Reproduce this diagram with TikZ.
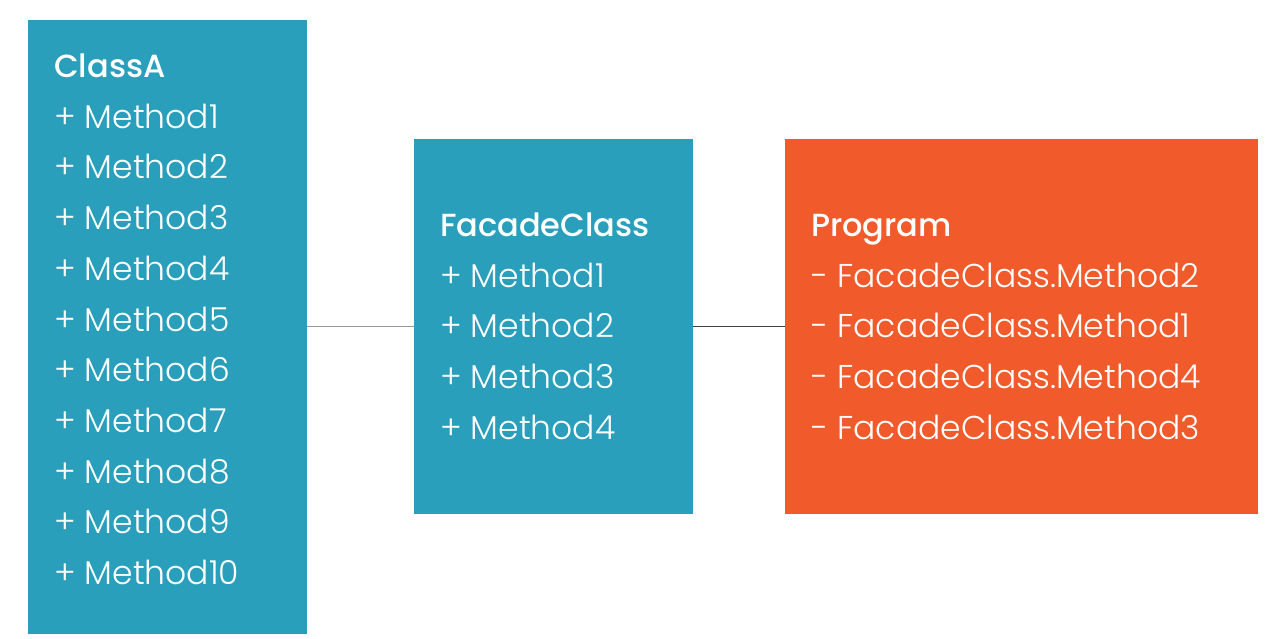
\documentclass[tikz,border=0pt]{standalone}
\usepackage{fontspec}
\setmainfont{Poppins Light}[BoldFont={Poppins Medium}]

\usetikzlibrary{positioning}

\definecolor{classblue}{HTML}{2A9FBC}
\definecolor{programorange}{HTML}{F15A2B}

\begin{document}
\begin{tikzpicture}[x=1pt,y=-1pt,
  box/.style={draw=none, inner sep=0pt, anchor=north west},
  member/.style={anchor=base west, inner sep=0pt, text=white, font=\fontsize{33}{33}\selectfont},
  header/.style={member, font=\fontsize{32}{32}\selectfont\bfseries}]
  \useasboundingbox (0,0) rectangle (1275,638);

  % boxes
  \node[box, fill=classblue, minimum width=279, minimum height=614] (classA) at (28,20) {};
  \node[box, fill=classblue, minimum width=279, minimum height=375] (facade) at (414,139) {};
  \node[box, fill=programorange, minimum width=473, minimum height=375] (program) at (785,139) {};

  % connectors
  \draw[gray!80, line width=1.2pt] (facade.west -| classA.east) -- (facade.west);
  \draw[black!75, line width=1.2pt] (facade.east) -- (program.west);

  % ClassA
  \node[header] (classAname) at (54,77) {ClassA};
  \foreach \i in {1,...,10}
    \node[member] (classAm\i) at (54,{77.5+50.7*\i}) {+ Method\i};

  % FacadeClass
  \node[header] (facadename) at (440,236) {FacadeClass};
  \foreach \i in {1,...,4}
    \node[member] (facadem\i) at (440,{236.5+50.7*\i}) {+ Method\i};

  % Program
  \node[header] (programname) at (811,236) {Program};
  \node[member] (programm1) at (811,{236.5+50.7}) {- FacadeClass.Method2};
  \node[member] (programm2) at (811,{236.5+2*50.7}) {- FacadeClass.Method1};
  \node[member] (programm3) at (811,{236.5+3*50.7}) {- FacadeClass.Method4};
  \node[member] (programm4) at (811,{236.5+4*50.7}) {- FacadeClass.Method3};
\end{tikzpicture}
\end{document}
